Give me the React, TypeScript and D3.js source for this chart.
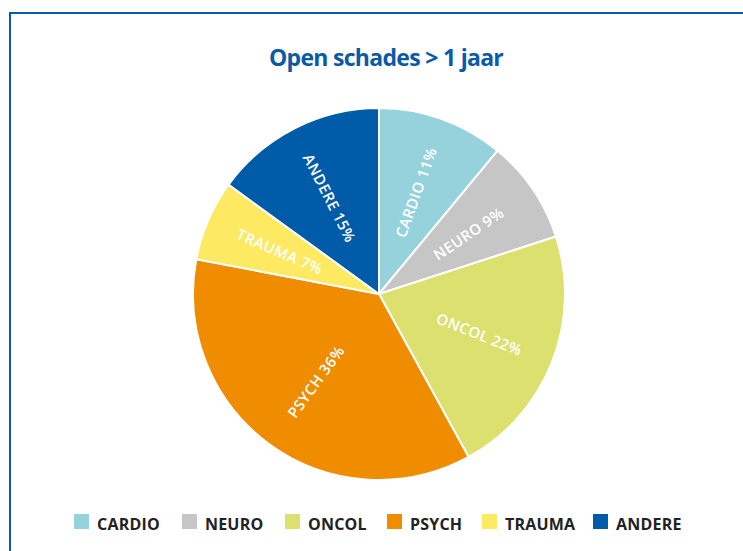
import React from "react";
import * as d3 from "d3";

const categories = ["CARDIO", "NEURO", "ONCOL", "PSYCH", "TRAUMA", "ANDERE"];
const values = [11, 9, 22, 36, 7, 15];
const colors = ["#96d2dc", "#c6c6c6", "#dce06e", "#f08c00", "#fde962", "#005ca9"];
const title = "Open schades > 1 jaar";

const W = 743;
const H = 551;
const cx = 379;
const cy = 294;
const R = 186;
const labelR = 108;

const legendX = [74, 182, 285, 387, 482, 593];

export default function App() {
  const pie = d3.pie<number>().sort(null).value((d) => d);
  const arcs = pie(values);
  const arcGen = d3.arc<d3.PieArcDatum<number>>().innerRadius(0).outerRadius(R);
  const font = "'Open Sans', 'Noto Sans', sans-serif";
  return (
    <svg
      width={W}
      height={H}
      style={{ position: "absolute", left: 0, top: 0, background: "#fff" }}
    >
      <rect x={10} y={13} width={W + 20} height={H + 20} fill="#fff" stroke="#0a5ca8" strokeWidth={2} />
      <text
        x={386}
        y={66}
        textAnchor="middle"
        fill="#0a5aa6"
        fontFamily={font}
        fontWeight={700}
        fontSize={23}
        letterSpacing={-0.7}
      >
        {title}
      </text>
      <g transform={`translate(${cx},${cy})`}>
        {arcs.map((a, i) => (
          <path key={i} d={arcGen(a) || ""} fill={colors[i]} stroke="#fff" strokeWidth={2} />
        ))}
        {arcs.map((a, i) => {
          const mid = (a.startAngle + a.endAngle) / 2;
          const deg = (mid * 180) / Math.PI;
          const x = Math.sin(mid) * labelR;
          const y = -Math.cos(mid) * labelR;
          const rot = deg < 180 ? deg - 90 : deg + 90;
          return (
            <text
              key={i}
              transform={`translate(${x},${y}) rotate(${rot})`}
              textAnchor="middle"
              dominantBaseline="central"
              fill="#fff"
              fontFamily={font}
              fontWeight={600}
              fontSize={15}
              letterSpacing={0.4}
            >
              {`${categories[i]} ${values[i]}%`}
            </text>
          );
        })}
      </g>
      <g>
        {categories.map((c, i) => (
          <g key={c} transform={`translate(${legendX[i]},514)`}>
            <rect width={15} height={15} fill={colors[i]} />
            <text
              x={23}
              y={16}
              fill="#222"
              fontFamily={font}
              fontWeight={700}
              fontSize={16}
              letterSpacing={0.2}
            >
              {c}
            </text>
          </g>
        ))}
      </g>
    </svg>
  );
}
